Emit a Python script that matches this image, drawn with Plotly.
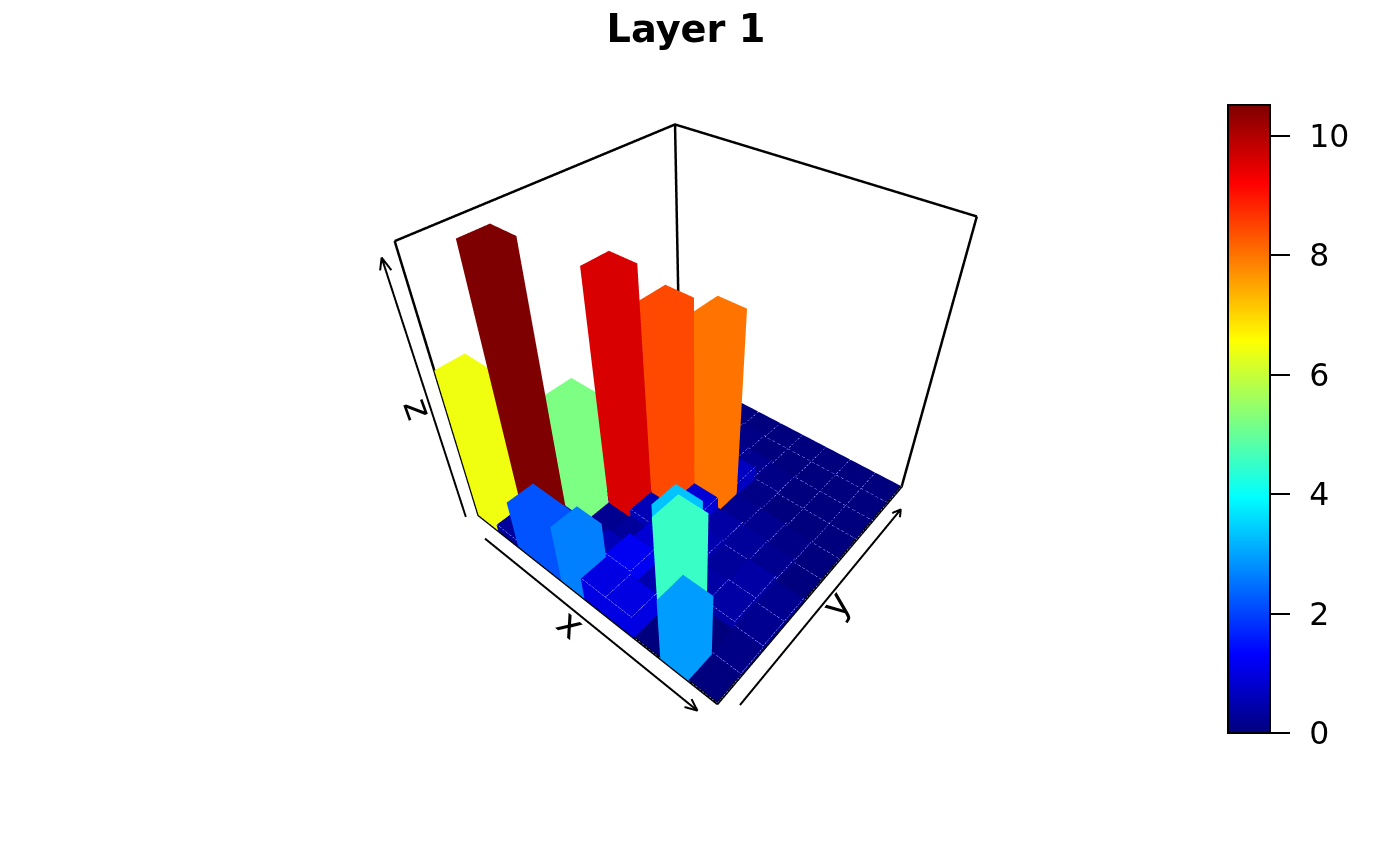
import plotly.graph_objects as go

# Heights per y cell (rows), x cells 1..10 in each row
z_y1 = [6.4, 0.3, 2.2, 2.2, 2.65, 1.05, 1.05, 0, 2.95, 0]
z_y2 = [0.3, 10.52, 0.2, 0.3, 0.6, 1.2, 0.5, 4.55, 0, 0.1]
z_y3 = [0.2, 0.3, 5.25, 0.2, 0.3, 0.9, 3.35, 0.4, 0.4, 0.2]
z_y4 = [0.3, 2.5, 0.8, 9.58, 0.6, 0.7, 0.5, 0.3, 0.4, 0.2]
z_y5 = [0.2, 0.3, 0.4, 0.9, 8.43, 0.9, 0.4, 0.3, 0.2, 0]
z_y6 = [0.2, 0.2, 0.3, 0.4, 0.5, 7.98, 0.2, 0.2, 0.1, 0]
z_y7 = [0.1, 0.2, 0.2, 0.3, 0.4, 0.7, 0.1, 0, 0, 0]
z_y8 = [0.2, 0.1, 0.2, 0.2, 0.2, 0.2, 0.1, 0, 0, 0]
z_y9 = [0.1, 0.2, 0.2, 0.1, 0.1, 0, 0, 0, 0, 0]
z_y10 = [0.1, 0.1, 0.1, 0, 0, 0, 0, 0, 0, 0]
rows = [z_y1, z_y2, z_y3, z_y4, z_y5, z_y6, z_y7, z_y8, z_y9, z_y10]

ZMAX = 10.52
cbar_ticks = [0, 2, 4, 6, 8, 10]
jet = ["#00007F", "#0000FF", "#007FFF", "#00FFFF", "#7FFF7F",
       "#FFFF00", "#FF7F00", "#FF0000", "#7F0000"]
colorscale = [[i / 8, c] for i, c in enumerate(jet)]

vx, vy, vz, fi, fj, fk, inten = [], [], [], [], [], [], []
def quad(p, val):
    n = len(vx)
    for a, b, c in p:
        vx.append(a); vy.append(b); vz.append(c)
    fi.extend([n, n]); fj.extend([n + 1, n + 2]); fk.extend([n + 2, n + 3])
    inten.extend([val, val])

N = 10
lx, ly, lz = [], [], []
for iy, row in enumerate(rows):
    for ix, h in enumerate(row):
        x0, x1 = ix / N, (ix + 1) / N
        y0, y1 = iy / N, (iy + 1) / N
        quad([(x0, y0, h), (x1, y0, h), (x1, y1, h), (x0, y1, h)], h)
        if h > 0:
            quad([(x0, y0, 0), (x1, y0, 0), (x1, y0, h), (x0, y0, h)], h)
            quad([(x1, y0, 0), (x1, y1, 0), (x1, y1, h), (x1, y0, h)], h)
            quad([(x0, y1, 0), (x1, y1, 0), (x1, y1, h), (x0, y1, h)], h)
            quad([(x0, y0, 0), (x0, y1, 0), (x0, y1, h), (x0, y0, h)], h)
        if h < 1.5:
            lift = 0.004 * ZMAX
            lx += [x0, x1, x1, None]
            ly += [y0, y0, y1, None]
            lz += [h + lift, h + lift, h + lift, None]

W, H = 1400, 866
fig = go.Figure()
fig.add_trace(go.Mesh3d(
    x=vx, y=vy, z=vz, i=fi, j=fj, k=fk,
    intensity=inten, intensitymode="cell",
    colorscale=colorscale, cmin=0, cmax=ZMAX,
    flatshading=True,
    lighting=dict(ambient=1, diffuse=0, specular=0, fresnel=0, roughness=1),
    hoverinfo="skip",
    colorbar=dict(
        x=1228 / W, xanchor="left", xpad=0,
        y=(H - 733) / H, yanchor="bottom", ypad=0,
        len=628 / H, lenmode="fraction",
        thickness=42, thicknessmode="pixels",
        outlinecolor="black", outlinewidth=2, borderwidth=0,
        ticks="outside", ticklen=19, tickwidth=1.5, tickcolor="black",
        tickvals=cbar_ticks, ticktext=["\u2004\u200a" + str(t) for t in cbar_ticks],
        tickfont=dict(family="DejaVu Sans", size=31.5, color="black"),
    ),
))
fig.add_trace(go.Scatter3d(x=lx, y=ly, z=lz, mode="lines",
                           line=dict(color="rgba(150,150,230,0.2)", width=1),
                           hoverinfo="skip", showlegend=False))

def seg(points, width=5):
    fig.add_trace(go.Scatter3d(
        x=[p[0] for p in points], y=[p[1] for p in points],
        z=[p[2] * ZMAX for p in points],
        mode="lines", line=dict(color="black", width=width),
        hoverinfo="skip", showlegend=False))

# box
seg([(0, 0, 1), (0, 1, 1), (1, 1, 1)])
seg([(0, 0, 1), (0, 0, 0), (1, 0, 0), (1, 1, 0), (1, 1, 1)])
seg([(0, 1, 1), (0, 1, 0)])

# axis arrows
seg([(0.095, -0.047, 0), (0.972, -0.047, 0)], 4)
seg([(0.94, -0.061, 0), (0.972, -0.047, 0), (0.94, -0.033, 0)], 4)
seg([(1.047, 0.035, 0), (1.047, 0.905, 0)], 4)
seg([(1.061, 0.873, 0), (1.047, 0.905, 0), (1.033, 0.873, 0)], 4)
seg([(-0.026, -0.031, 0), (-0.026, -0.031, 0.96)], 4)
seg([(-0.036, -0.04, 0.925), (-0.026, -0.031, 0.96), (-0.016, -0.022, 0.925)], 4)

span = dict(visible=False, showgrid=False, showbackground=False, showspikes=False)
scene_top, scene_bottom = 122, 716
scene_left, scene_right = 196.36, 1196.36
fig.update_layout(
    width=W, height=H,
    margin=dict(l=0, r=0, t=0, b=0),
    paper_bgcolor="white",
    showlegend=False,
    font=dict(family="DejaVu Sans", color="black"),
    title=dict(text="<b>Layer 1</b>", x=686 / W, xanchor="center",
               y=1 - 29 / H, yanchor="middle",
               font=dict(family="DejaVu Sans", size=38.3, color="black")),
    scene=dict(
        domain=dict(x=[scene_left / W, scene_right / W],
                    y=[(H - scene_bottom) / H, (H - scene_top) / H]),
        xaxis=dict(range=[-0.3, 1.3], **span),
        yaxis=dict(range=[-0.3, 1.3], **span),
        zaxis=dict(range=[-0.3 * ZMAX, 1.3 * ZMAX], **span),
        aspectmode="manual",
        aspectratio=dict(x=1.6 * 1.0058, y=1.6 * 1.0104, z=1.6 * 0.9886),
        camera=dict(
            eye=dict(x=1.0423, y=-1.2366, z=1.3097),
            center=dict(x=0.0013, y=0.0069, z=-0.1321),
            up=dict(x=0, y=0, z=1),
            projection=dict(type="perspective"),
        ),
    ),
    annotations=[
        dict(text="x", x=571 / W, y=1 - 624 / H, xref="paper", yref="paper",
             xanchor="center", yanchor="middle",
             showarrow=False, textangle=40, font=dict(size=37)),
        dict(text="y", x=836 / W, y=1 - 604 / H, xref="paper", yref="paper",
             xanchor="center", yanchor="middle",
             showarrow=False, textangle=-52, font=dict(size=37)),
        dict(text="z", x=418 / W, y=1 - 408 / H, xref="paper", yref="paper",
             xanchor="center", yanchor="middle",
             showarrow=False, textangle=70, font=dict(size=37)),
    ],
)
fig.write_html("out.html", config=dict(displayModeBar=False),
               post_script="document.body.style.margin='0';document.body.style.overflow='hidden';")
